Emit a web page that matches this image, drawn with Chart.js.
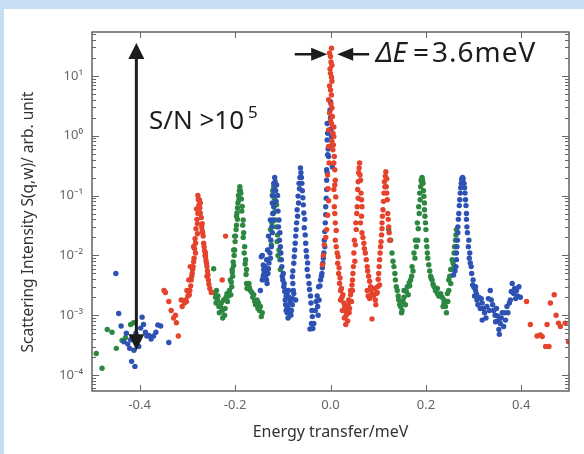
<!DOCTYPE html>
<html>
<head>
<meta charset="utf-8">
<script src="https://cdn.jsdelivr.net/npm/chart.js@4.4.1/dist/chart.umd.min.js"></script>
<style>
html, body { margin: 0; padding: 0; background: #c7ddf1; }
#wrap { width: 584px; height: 454px; }
</style>
</head>
<body>
<div id="wrap"><canvas id="spectrum" width="584" height="454"></canvas></div>
<script>
// eixo x: energia (meV), eixo y: intensidade (escala log)
const xTicks = [-0.4, -0.2, 0.0, 0.2, 0.4];
const yTicks = [1e-4, 1e-3, 1e-2, 1e-1, 1, 10];
const yTickLabels = ['10\u207B\u2074', '10\u207B\u00B3', '10\u207B\u00B2', '10\u207B\u00B9', '10\u2070', '10\u00B9'];

// serie vermelha (energia / intensidade, mesma ordem)
const redE = [
  -0.349, -0.346, -0.339, -0.334, -0.329, -0.325, -0.323, -0.319, -0.313, -0.311,
  -0.306, -0.304, -0.302, -0.301, -0.299, -0.297, -0.295, -0.294, -0.292, -0.290,
  -0.288, -0.287, -0.287, -0.283, -0.283, -0.279, -0.279, -0.278, -0.276, -0.278,
  -0.275, -0.273, -0.273, -0.269, -0.269, -0.267, -0.266, -0.264, -0.262, -0.262,
  -0.260, -0.259, -0.259, -0.257, -0.256, -0.227, -0.220,
  -0.017, -0.015, -0.013, -0.008, -0.006, -0.004, -0.006, -0.004, -0.004, -0.004,
  0.000, 0.000, 0.000, 0.000, 0.002, 0.003, 0.003, 0.003, 0.007, 0.007,
  0.005, 0.007, 0.010, 0.007, 0.008, 0.010, 0.010, 0.014, 0.015, 0.017,
  0.019, 0.021, 0.021, 0.024, 0.025, 0.028, 0.029, 0.031, 0.035, 0.036,
  0.037, 0.038, 0.042, 0.042, 0.046, 0.046, 0.048, 0.049, 0.050, 0.053,
  0.056, 0.057, 0.059, 0.061, 0.063, 0.064, 0.066, 0.063, 0.066, 0.070,
  0.073, 0.077, 0.077, 0.080, 0.084, 0.087, 0.087, 0.090, 0.094, 0.096,
  0.098, 0.101, 0.103, 0.103, 0.105, 0.107, 0.108, 0.110, 0.112, 0.113,
  0.116, 0.117, 0.119, 0.120, 0.122, 0.124,
  0.411, 0.419, 0.433, 0.440, 0.444, 0.451, 0.454, 0.458, 0.461, 0.469,
  0.473, 0.478, 0.482, 0.492, 0.499,
  -0.281, -0.280, -0.282, -0.284, -0.285, -0.286, -0.289, -0.291, -0.293, -0.296, -0.277,
  -0.274, -0.271, -0.270, -0.268, -0.265, -0.263, -0.261, -0.258, -0.255, -0.253, -0.250,
  -0.002, 0.001, -0.001, 0.002, -0.002, 0.002, 0.001, -0.002, 0.004, 0.002, 0.005, 0.003,
  0.006, 0.008, 0.009, 0.009, 0.011, 0.009, 0.012, 0.012, 0.016, 0.018, 0.020, 0.023,
  0.026, 0.030, 0.033, 0.039, 0.040, 0.044, 0.032, 0.034, -0.003, -0.005, -0.010,
  0.060, 0.058, 0.058, 0.055, 0.054, 0.052, 0.051, 0.047, 0.045,
  0.062, 0.065, 0.065, 0.068, 0.071, 0.075, 0.078, 0.082, 0.085,
  0.115, 0.114, 0.111, 0.109, 0.108, 0.106, 0.104, 0.102, 0.100,
  0.099, 0.118, 0.121, 0.123, 0.118, 0.079, 0.082, 0.092, 0.095
];
const redS = [
  0.0026, 0.0024, 0.0017, 0.0012, 0.0009, 0.0010, 0.00075, 0.00045, 0.0018, 0.0014,
  0.0016, 0.0018, 0.0017, 0.0026, 0.0021, 0.0039, 0.0026, 0.0065, 0.0039, 0.005,
  0.0065, 0.0078, 0.014, 0.011, 0.016, 0.023, 0.034, 0.050, 0.069, 0.10,
  0.085, 0.075, 0.051, 0.034, 0.026, 0.021, 0.016, 0.012, 0.011, 0.0095,
  0.0074, 0.0065, 0.0045, 0.0047, 0.0039, 0.0039, 0.021,
  0.007, 0.010, 0.015, 0.027, 0.047, 0.082, 0.22, 0.66, 1.25, 4.0,
  5.8, 1.8, 11, 21, 29, 15, 8.1, 2.9, 1.4, 0.97,
  0.58, 0.35, 0.18, 0.126, 0.065, 0.035, 0.018, 0.011, 0.0074, 0.005,
  0.0034, 0.0026, 0.0018, 0.002, 0.0012, 0.0016, 0.0009, 0.0012, 0.0011, 0.0008,
  0.0015, 0.0018, 0.0022, 0.0026, 0.0039, 0.0026, 0.0065, 0.011, 0.018, 0.035,
  0.065, 0.126, 0.24, 0.35, 0.18, 0.11, 0.065, 0.035, 0.024, 0.016,
  0.011, 0.0065, 0.0026, 0.0045, 0.003, 0.0023, 0.00087, 0.0021, 0.0018, 0.0023,
  0.0024, 0.005, 0.0032, 0.0085, 0.014, 0.022, 0.035, 0.058, 0.11, 0.17,
  0.25, 0.14, 0.085, 0.05, 0.03, 0.018,
  0.0017, 0.0007, 0.00045, 0.00047, 0.00044, 0.0003, 0.0007, 0.0003, 0.0016, 0.0022,
  0.0010, 0.00074, 0.00065, 0.00074, 0.00036,
  0.06, 0.04, 0.028, 0.019, 0.013, 0.009, 0.0058, 0.0045, 0.0031, 0.0022, 0.085,
  0.062, 0.043, 0.030, 0.024, 0.014, 0.010, 0.0082, 0.0055, 0.0033, 0.0028, 0.0024,
  24, 17, 13, 9.5, 6.8, 4.8, 3.4, 2.4, 2.1, 1.6, 1.1, 0.8,
  0.7, 0.45, 0.27, 0.15, 0.095, 0.05, 0.026, 0.014, 0.0095, 0.0062, 0.0042, 0.0028,
  0.0022, 0.0014, 0.001, 0.0011, 0.0013, 0.0017, 0.0007, 0.0013, 0.35, 0.13, 0.02,
  0.29, 0.17, 0.09, 0.05, 0.027, 0.015, 0.008, 0.005, 0.0032,
  0.22, 0.085, 0.045, 0.02, 0.013, 0.0085, 0.0055, 0.0037, 0.0027,
  0.21, 0.14, 0.08, 0.045, 0.028, 0.017, 0.011, 0.0065, 0.004,
  0.003, 0.11, 0.04, 0.024, 0.19, 0.0021, 0.0019, 0.0028, 0.0015
];

// serie verde
const greenE = [
  -0.491, -0.479, -0.468, -0.458, -0.449, -0.437, -0.430, -0.419, -0.413,
  -0.245, -0.241, -0.239, -0.237, -0.234, -0.231, -0.227, -0.224, -0.222, -0.217,
  -0.216, -0.212, -0.210, -0.208, -0.206, -0.206, -0.204, -0.203, -0.201, -0.201,
  -0.199, -0.197, -0.197, -0.196, -0.194, -0.193, -0.190, -0.188, -0.185, -0.183,
  -0.182, -0.180, -0.178, -0.176, -0.176, -0.175, -0.171, -0.168, -0.161, -0.157,
  -0.154, -0.151, -0.147, -0.145, -0.143,
  -0.126, -0.124, -0.122, -0.119, -0.115, -0.113, -0.111, -0.108, -0.106, -0.105,
  0.122, 0.126, 0.129, 0.133, 0.136, 0.140, 0.143, 0.147, 0.150, 0.154,
  0.154, 0.157, 0.161, 0.163, 0.168, 0.171, 0.175, 0.178, 0.182, 0.185,
  0.187, 0.190, 0.192, 0.194, 0.196, 0.197, 0.199, 0.201, 0.203, 0.206,
  0.210, 0.213, 0.217, 0.224, 0.224, 0.231, 0.238, 0.238, 0.241, 0.243,
  0.245, 0.248, 0.248, 0.252, 0.252, 0.255, 0.259, 0.259, 0.262, 0.264,
  -0.191, -0.192, -0.195, -0.195, -0.198, -0.200, -0.202, -0.203, -0.205, -0.207, -0.209, -0.189, -0.187,
  -0.186, -0.184, -0.183, -0.181, -0.179, -0.177, -0.173, -0.170, -0.165, -0.163, -0.159, -0.149, -0.152,
  -0.243, -0.240, -0.236, -0.233, -0.229, -0.226, -0.221, -0.219, -0.214,
  -0.121, -0.118, -0.116, -0.114, -0.120, -0.123, -0.112, -0.110,
  0.191, 0.189, 0.188, 0.186, 0.184, 0.183, 0.180, 0.177, 0.173, 0.170, 0.166, 0.193, 0.195, 0.197, 0.198,
  0.200, 0.202, 0.204, 0.208, 0.211, 0.215, 0.220, 0.227, 0.234, 0.236, 0.246, 0.250, 0.257, 0.260, 0.263,
  0.131, 0.135, 0.138, 0.142, 0.145, 0.149, 0.152, 0.159, 0.165
];
const greenS = [
  0.00023, 0.00013, 0.00058, 0.00052, 0.00028, 0.00038, 0.00042, 0.0007, 0.00075,
  0.006, 0.002, 0.0026, 0.0018, 0.0014, 0.0014, 0.0012, 0.0018, 0.001, 0.0023,
  0.0017, 0.0026, 0.0039, 0.0036, 0.0053, 0.0058, 0.0078, 0.0123, 0.0123, 0.021,
  0.021, 0.032, 0.045, 0.051, 0.075, 0.10, 0.14, 0.11, 0.066, 0.039,
  0.024, 0.014, 0.0085, 0.0058, 0.0034, 0.0028, 0.0034, 0.0026, 0.0022, 0.0015,
  0.0018, 0.0016, 0.0014, 0.00095, 0.0011,
  0.027, 0.015, 0.10, 0.14, 0.039, 0.07, 0.022, 0.0123, 0.0085, 0.0058,
  0.027, 0.018, 0.011, 0.0065, 0.0039, 0.0026, 0.0018, 0.0014, 0.0012, 0.002,
  0.0026, 0.0015, 0.003, 0.0022, 0.0039, 0.0065, 0.011, 0.018, 0.035, 0.065,
  0.11, 0.18, 0.20, 0.16, 0.097, 0.058, 0.035, 0.018, 0.011, 0.007,
  0.0045, 0.0039, 0.003, 0.0028, 0.0023, 0.0023, 0.0018, 0.0016, 0.0014, 0.0011,
  0.0023, 0.0026, 0.0039, 0.0058, 0.0034, 0.0085, 0.011, 0.0065, 0.018, 0.027,
  0.12, 0.085, 0.062, 0.04, 0.027, 0.017, 0.01, 0.0068, 0.0045, 0.003, 0.0022, 0.12, 0.088,
  0.055, 0.032, 0.02, 0.011, 0.0072, 0.0048, 0.003, 0.0029, 0.0024, 0.002, 0.0017, 0.0012, 0.0013,
  0.0024, 0.0016, 0.0021, 0.0011, 0.0016, 0.0009, 0.0013, 0.002, 0.0021,
  0.12, 0.09, 0.055, 0.03, 0.05, 0.035, 0.017, 0.01,
  0.17, 0.14, 0.085, 0.05, 0.028, 0.018, 0.014, 0.009, 0.0055, 0.0045, 0.0031, 0.18, 0.12, 0.075, 0.045,
  0.027, 0.014, 0.009, 0.0055, 0.0042, 0.0033, 0.0026, 0.0021, 0.002, 0.0014, 0.0017, 0.0045, 0.0075, 0.014, 0.022,
  0.008, 0.005, 0.003, 0.0021, 0.0015, 0.0011, 0.0017, 0.0025, 0.0035
];

// serie azul
const blueE = [
  -0.450, -0.444, -0.439, -0.433, -0.425, -0.419, -0.417, -0.412, -0.410, -0.404,
  -0.398, -0.395, -0.388, -0.381, -0.371, -0.362, -0.356, -0.339,
  -0.147, -0.145, -0.143, -0.143, -0.141, -0.141, -0.140, -0.140, -0.137, -0.134,
  -0.134, -0.133, -0.132, -0.130, -0.130, -0.126, -0.126, -0.124, -0.122, -0.122,
  -0.120, -0.119, -0.118, -0.117, -0.113, -0.111, -0.108, -0.106, -0.105, -0.103,
  -0.101, -0.099, -0.098, -0.097, -0.095, -0.092, -0.091, -0.091, -0.091, -0.088,
  -0.087, -0.086, -0.084, -0.084, -0.083, -0.080, -0.080, -0.078, -0.077, -0.077,
  -0.075, -0.073, -0.073, -0.071, -0.070, -0.068, -0.066, -0.063, -0.060, -0.058,
  -0.056, -0.055, -0.052, -0.050, -0.049, -0.045, -0.043, -0.042, -0.040, -0.039,
  -0.035, -0.032, -0.028, -0.026, -0.025, -0.024, -0.021, -0.018, -0.016, -0.014,
  -0.013, -0.011, -0.010, -0.008, -0.008, -0.007, -0.006, -0.007, -0.007, -0.004,
  -0.002, 0.000, 0.000, 0.002, 0.004,
  0.258, 0.263, 0.264, 0.266, 0.267, 0.269, 0.271, 0.273, 0.276, 0.277,
  0.281, 0.283, 0.285, 0.286, 0.290, 0.292, 0.295, 0.299, 0.304, 0.304,
  0.307, 0.311, 0.318, 0.318, 0.323, 0.328, 0.331, 0.335, 0.340, 0.342,
  0.346, 0.350, 0.353, 0.354, 0.356, 0.363, 0.367, 0.370, 0.377, 0.381,
  0.384, 0.395, 0.398,
  -0.116, -0.115, -0.114, -0.119, -0.121, -0.121, -0.123, -0.125, -0.127, -0.129, -0.131, -0.136, -0.138, -0.110,
  -0.109, -0.107, -0.104, -0.102, -0.100, -0.096, -0.094, -0.093, -0.089, -0.085, -0.082, -0.079, -0.089, -0.093,
  -0.062, -0.064, -0.065, -0.067, -0.069, -0.072, -0.074, -0.076, -0.079, -0.079, -0.061,
  -0.059, -0.057, -0.054, -0.053, -0.051, -0.048, -0.047, -0.044, -0.041, -0.038, -0.037,
  -0.027, -0.030, -0.022, -0.019, -0.017, -0.015, -0.012, -0.012, -0.010, -0.009, -0.008, -0.005, -0.006, 0.001, -0.001,
  0.275, 0.274, 0.272, 0.270, 0.268, 0.267, 0.265, 0.264, 0.261, 0.278, 0.280, 0.282, 0.284,
  0.285, 0.287, 0.289, 0.291, 0.293, 0.296, 0.298, 0.301, 0.302, 0.306, 0.309, 0.314, 0.316,
  0.321, 0.326, 0.333, 0.337, 0.345, 0.348, 0.352, 0.358, 0.360, 0.365, 0.372, 0.375, 0.379, 0.386, 0.390, 0.392, 0.388,
  -0.428, -0.421, -0.415, -0.408, -0.402, -0.392, -0.385, -0.376, -0.366
];
const blueS = [
  0.005, 0.00107, 0.00066, 0.00036, 0.00033, 0.00039, 0.00017, 0.00026, 0.00014, 0.00042,
  0.00061, 0.00093, 0.00052, 0.00046, 0.00045, 0.00069, 0.00066, 0.00035,
  0.0026, 0.0095, 0.0039, 0.010, 0.0069, 0.0045, 0.0058, 0.0048, 0.0065, 0.0085,
  0.0039, 0.0034, 0.0123, 0.021, 0.006, 0.039, 0.009, 0.014, 0.075, 0.024,
  0.039, 0.065, 0.126, 0.20, 0.15, 0.10, 0.039, 0.024, 0.014, 0.0085,
  0.0045, 0.005, 0.003, 0.0034, 0.0018, 0.0026, 0.0023, 0.0014, 0.0011, 0.0026,
  0.002, 0.0011, 0.0018, 0.0011, 0.001, 0.0015, 0.0044, 0.0026, 0.0023, 0.0074,
  0.0123, 0.0018, 0.021, 0.035, 0.058, 0.098, 0.16, 0.29, 0.16, 0.092,
  0.051, 0.029, 0.016, 0.0095, 0.0058, 0.0034, 0.00059, 0.0021, 0.00073, 0.0012,
  0.00073, 0.0012, 0.0021, 0.001, 0.003, 0.0018, 0.0039, 0.005, 0.0074, 0.011,
  0.018, 0.035, 0.065, 0.126, 0.27, 0.24, 0.48, 0.85, 1.6, 0.45,
  0.66, 2.0, 3.7, 0.97, 0.30,
  0.0047, 0.0065, 0.011, 0.018, 0.03, 0.05, 0.085, 0.135, 0.18, 0.20,
  0.135, 0.085, 0.05, 0.03, 0.018, 0.011, 0.0065, 0.0039, 0.0026, 0.003,
  0.0018, 0.002, 0.0016, 0.00083, 0.0011, 0.0014, 0.0019, 0.0026, 0.0015, 0.0012,
  0.00078, 0.00097, 0.00058, 0.00048, 0.00073, 0.00065, 0.00083, 0.0014, 0.0018, 0.0034,
  0.0023, 0.003, 0.002,
  0.17, 0.12, 0.08, 0.16, 0.1, 0.05, 0.03, 0.018, 0.011, 0.0075, 0.005, 0.0045, 0.0055, 0.055,
  0.03, 0.018, 0.011, 0.0065, 0.0039, 0.0025, 0.0015, 0.0021, 0.0013, 0.0016, 0.0012, 0.0019, 0.0009, 0.0012,
  0.24, 0.2, 0.13, 0.075, 0.045, 0.027, 0.016, 0.0095, 0.0055, 0.0034, 0.2,
  0.12, 0.07, 0.04, 0.022, 0.012, 0.0075, 0.0045, 0.0027, 0.0016, 0.00095, 0.0006,
  0.0014, 0.0017, 0.0031, 0.0045, 0.0062, 0.009, 0.014, 0.025, 0.048, 0.09, 0.18, 0.6, 1.1, 1.3, 2.7,
  0.19, 0.16, 0.11, 0.068, 0.04, 0.024, 0.014, 0.0085, 0.0055, 0.19, 0.16, 0.11, 0.068,
  0.04, 0.024, 0.014, 0.009, 0.0075, 0.005, 0.0032, 0.0029, 0.0021, 0.0023, 0.0015, 0.0013, 0.0019,
  0.0013, 0.0009, 0.0012, 0.0018, 0.001, 0.0013, 0.0008, 0.0009, 0.0011, 0.0011, 0.0011, 0.0016, 0.0025, 0.0028, 0.0026, 0.0021, 0.0019,
  0.0005, 0.00028, 0.0004, 0.0005, 0.0003, 0.0007, 0.00045, 0.0004, 0.00052
];

// anotacoes (em coordenadas de dados)
const snArrow = { x: -0.407, top: 35.5, bottom: 2.6e-4 };
const deArrows = { y: 23, rightFrom: -0.075, rightTo: -0.007, leftFrom: 0.081, leftTo: 0.014 };

const toPoints = (es, ss) => es.map((e, i) => ({ x: e, y: ss[i] }));

// fundo, moldura, marcas e anotacoes
const decor = {
  id: 'decor',
  beforeDraw(chart) {
    const ctx = chart.ctx;
    ctx.save();
    ctx.fillStyle = '#c7ddf1';
    ctx.fillRect(0, 0, chart.width, chart.height);
    ctx.fillStyle = '#ffffff';
    ctx.fillRect(4, 9, chart.width - 4, chart.height - 9);
    ctx.restore();
  },
  afterDatasetsDraw(chart) {
    const { ctx, chartArea: a, scales: { x, y } } = chart;
    ctx.save();

    // moldura
    ctx.strokeStyle = '#4a4a4a';
    ctx.lineWidth = 1.3;
    ctx.strokeRect(a.left, a.top, a.right - a.left, a.bottom - a.top);

    // marcas para dentro
    ctx.lineWidth = 1;
    ctx.strokeStyle = '#666';
    ctx.beginPath();
    xTicks.forEach(v => {
      const px = Math.round(x.getPixelForValue(v)) + 0.5;
      ctx.moveTo(px, a.bottom); ctx.lineTo(px, a.bottom - 6);
      ctx.moveTo(px, a.top); ctx.lineTo(px, a.top + 6);
    });
    for (let e = -5; e <= 1; e++) {
      for (let k = 1; k <= 9; k++) {
        const v = k * Math.pow(10, e);
        if (v < y.min || v > y.max) continue;
        const py = Math.round(y.getPixelForValue(v)) + 0.5;
        const len = k === 1 ? 7 : 4;
        ctx.moveTo(a.left, py); ctx.lineTo(a.left + len, py);
        ctx.moveTo(a.right, py); ctx.lineTo(a.right - len, py);
      }
    }
    ctx.stroke();

    // titulos dos eixos
    ctx.fillStyle = '#333';
    ctx.font = '16px "Noto Sans", sans-serif';
    ctx.textAlign = 'center';
    ctx.textBaseline = 'middle';
    ctx.fillText('Energy transfer/meV', (a.left + a.right) / 2, 432);
    ctx.save();
    ctx.translate(29, 222);
    ctx.rotate(-Math.PI / 2);
    ctx.font = '15.5px "Noto Sans", sans-serif';
    ctx.fillText('Scattering Intensity S(q,w)/ arb. unit', 0, 0);
    ctx.restore();

    // seta vertical S/N
    ctx.fillStyle = '#1c1c1c';
    ctx.strokeStyle = '#1c1c1c';
    const ax = x.getPixelForValue(snArrow.x);
    const at = y.getPixelForValue(snArrow.top);
    const ab = y.getPixelForValue(snArrow.bottom);
    ctx.lineWidth = 3;
    ctx.beginPath();
    ctx.moveTo(ax, at + 12); ctx.lineTo(ax, ab - 12);
    ctx.stroke();
    ctx.beginPath();
    ctx.moveTo(ax, at); ctx.lineTo(ax - 8, at + 16); ctx.lineTo(ax + 8, at + 16); ctx.closePath();
    ctx.moveTo(ax, ab); ctx.lineTo(ax - 8, ab - 16); ctx.lineTo(ax + 8, ab - 16); ctx.closePath();
    ctx.fill();

    // setas horizontais do Delta E
    const hy = y.getPixelForValue(deArrows.y);
    const r0 = x.getPixelForValue(deArrows.rightFrom), r1 = x.getPixelForValue(deArrows.rightTo);
    const l0 = x.getPixelForValue(deArrows.leftFrom), l1 = x.getPixelForValue(deArrows.leftTo);
    ctx.lineWidth = 2.5;
    ctx.beginPath();
    ctx.moveTo(r0, hy); ctx.lineTo(r1 - 10, hy);
    ctx.moveTo(l0, hy); ctx.lineTo(l1 + 10, hy);
    ctx.stroke();
    ctx.beginPath();
    ctx.moveTo(r1, hy); ctx.lineTo(r1 - 16, hy - 6.5); ctx.lineTo(r1 - 16, hy + 6.5); ctx.closePath();
    ctx.moveTo(l1, hy); ctx.lineTo(l1 + 16, hy - 6.5); ctx.lineTo(l1 + 16, hy + 6.5); ctx.closePath();
    ctx.fill();

    // textos
    ctx.textAlign = 'left';
    ctx.textBaseline = 'alphabetic';
    ctx.font = '26px "Noto Sans", sans-serif';
    const snText = 'S/N >10';
    ctx.fillText(snText, 149, 129);
    const snW = ctx.measureText(snText).width;
    ctx.font = '17px "Noto Sans", sans-serif';
    ctx.fillText('5', 149 + snW + 4, 118);

    let tx = 376;
    ctx.font = 'italic 28px "Noto Sans", sans-serif';
    ctx.fillText('\u0394E', tx, 62);
    tx += ctx.measureText('\u0394E').width + 6;
    ctx.font = '28px "Noto Sans", sans-serif';
    ctx.fillText('=', tx, 62);
    tx += ctx.measureText('=').width + 3;
    ctx.letterSpacing = '1px';
    ctx.fillText('3.6meV', tx, 62);
    ctx.letterSpacing = '0px';

    ctx.restore();
  }
};

const tickFont = { family: '"Noto Sans", sans-serif', size: 13 };

new Chart(document.getElementById('spectrum'), {
  type: 'scatter',
  data: {
    datasets: [
      { label: 'red', data: toPoints(redE, redS), backgroundColor: '#e5432c' },
      { label: 'blue', data: toPoints(blueE, blueS), backgroundColor: '#2d52b3' },
      { label: 'green', data: toPoints(greenE, greenS), backgroundColor: '#2c8740' }
    ]
  },
  options: {
    responsive: false,
    animation: false,
    events: [],
    layout: { padding: { top: 32, right: 15, left: 0, bottom: 0 }, autoPadding: false },
    elements: { point: { radius: 2.7, borderWidth: 0, pointStyle: 'circle' } },
    plugins: { legend: { display: false }, tooltip: { enabled: false } },
    scales: {
      x: {
        type: 'linear',
        min: -0.5,
        max: 0.5,
        afterBuildTicks: s => { s.ticks = xTicks.map(v => ({ value: v })); },
        afterFit: s => { s.height = 63; },
        grid: { display: false, drawTicks: false },
        border: { display: false },
        ticks: { color: '#666', font: tickFont, padding: 6, maxRotation: 0,
                 callback: v => v.toFixed(1) }
      },
      y: {
        type: 'logarithmic',
        min: 5.43e-5,
        max: 54,
        afterBuildTicks: s => { s.ticks = yTicks.map(v => ({ value: v })); },
        afterFit: s => { s.width = 92; },
        grid: { display: false, drawTicks: false },
        border: { display: false },
        ticks: { color: '#666', font: tickFont, padding: 9,
                 callback: v => yTickLabels[yTicks.findIndex(t => Math.abs(Math.log10(t) - Math.log10(v)) < 0.01)] }
      }
    }
  },
  plugins: [decor]
});
</script>
</body>
</html>
